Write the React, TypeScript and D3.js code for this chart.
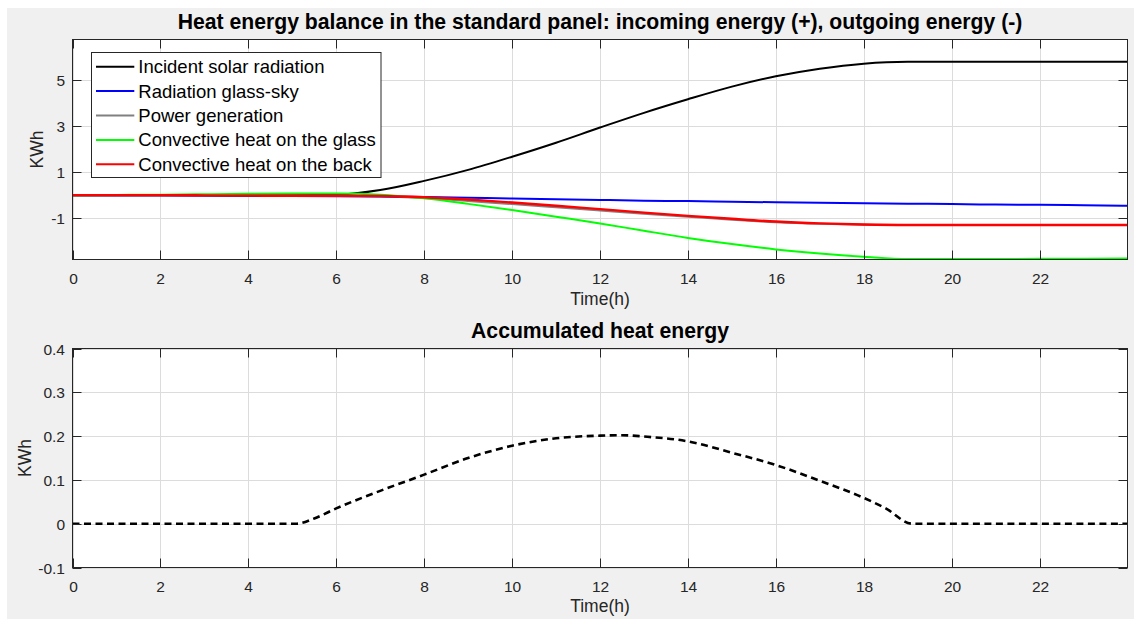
import React from "react";
import * as d3 from "d3";

// Hourly time base for the energy-balance panel (h)
const hours = d3.range(0, 25);

// Cumulative energy per source, KWh (positive = incoming, negative = outgoing)
const incidentSolar = [0, 0, 0, 0, 0, 0, 0.02, 0.22, 0.62, 1.1, 1.67, 2.28, 2.94, 3.58, 4.17, 4.72, 5.17, 5.5, 5.72, 5.8, 5.8, 5.8, 5.8, 5.8, 5.8];
const glassSky = [0, 0, -0.01, -0.02, -0.03, -0.04, -0.05, -0.06, -0.08, -0.11, -0.15, -0.18, -0.21, -0.24, -0.26, -0.29, -0.31, -0.33, -0.35, -0.37, -0.39, -0.41, -0.42, -0.44, -0.46];
const powerGeneration = [0, 0, 0, -0.01, -0.02, -0.03, -0.03, -0.05, -0.13, -0.26, -0.39, -0.53, -0.67, -0.81, -0.94, -1.07, -1.18, -1.25, -1.29, -1.3, -1.3, -1.3, -1.3, -1.3, -1.3];
const convGlass = [0, 0.01, 0.02, 0.04, 0.06, 0.07, 0.07, 0.02, -0.14, -0.38, -0.65, -0.94, -1.23, -1.55, -1.86, -2.13, -2.36, -2.54, -2.68, -2.78, -2.78, -2.78, -2.77, -2.77, -2.76];
const convBack = [0, 0, 0, -0.01, -0.02, -0.03, -0.03, -0.04, -0.09, -0.19, -0.32, -0.46, -0.61, -0.76, -0.9, -1.03, -1.15, -1.23, -1.28, -1.3, -1.3, -1.3, -1.3, -1.3, -1.3];

const seriesNames = [
  "Incident solar radiation",
  "Radiation glass-sky",
  "Power generation",
  "Convective heat on the glass",
  "Convective heat on the back",
];
const seriesColors = ["#000000", "#0000ff", "#808080", "#00ff00", "#ff0000"];
const seriesValues = [incidentSolar, glassSky, powerGeneration, convGlass, convBack];

// Accumulated heat energy (KWh)
const accumHours = [0, 5.1, 5.5, 6, 7, 8, 9, 10, 11, 12, 12.5, 13, 14, 15, 16, 17, 18, 18.5, 19.1, 24];
const accumValues = [0, 0, 0.012, 0.035, 0.075, 0.112, 0.15, 0.178, 0.195, 0.201, 0.202, 0.199, 0.188, 0.162, 0.134, 0.098, 0.059, 0.035, 0, 0];

const xTicks = [0, 2, 4, 6, 8, 10, 12, 14, 16, 18, 20, 22];
const yTicksTop = [-1, 1, 3, 5];
const yTicksBottom = [-0.1, 0, 0.1, 0.2, 0.3, 0.4];

const FONT = "'Liberation Sans', Arial, Helvetica, sans-serif";
const AXIS = "#262626";
const GRID = "#dcdcdc";

const W = 1134;
const H = 619;
const L = 72.5;
const R = 1127.5;

type Panel = {
  top: number;
  bottom: number;
  y: d3.ScaleLinear<number, number>;
  yTicks: number[];
  fmt: (v: number) => string;
  id: string;
};

const x = d3.scaleLinear().domain([0, 24]).range([L, R]);

const topPanel: Panel = {
  top: 39.5,
  bottom: 259.5,
  y: d3.scaleLinear().domain([-2.8, 6.77]).range([259.5, 39.5]),
  yTicks: yTicksTop,
  fmt: (v) => String(v),
  id: "clipTop",
};
const bottomPanel: Panel = {
  top: 348.5,
  bottom: 567.5,
  y: d3.scaleLinear().domain([-0.1, 0.4]).range([567.5, 348.5]),
  yTicks: yTicksBottom,
  fmt: (v) => (v === 0 ? "0" : v.toFixed(1)),
  id: "clipBottom",
};

const TICK = 9;

function Grid({ p }: { p: Panel }) {
  return (
    <g>
      <rect x={L} y={p.top} width={R - L} height={p.bottom - p.top} fill="#ffffff" />
      {xTicks.map((t) => (
        <line key={"gx" + t} x1={Math.round(x(t)) + 0.5} x2={Math.round(x(t)) + 0.5} y1={p.top} y2={p.bottom} stroke={GRID} strokeWidth={1} />
      ))}
      {p.yTicks.map((t) => (
        <line key={"gy" + t} x1={L} x2={R} y1={Math.round(p.y(t)) + 0.5} y2={Math.round(p.y(t)) + 0.5} stroke={GRID} strokeWidth={1} />
      ))}
    </g>
  );
}

function Frame({ p, labelBaseline, yLabelX }: { p: Panel; labelBaseline: number; yLabelX: number }) {
  return (
    <g fontFamily={FONT}>
      {xTicks.map((t) => {
        const xx = Math.round(x(t)) + 0.5;
        return (
          <g key={"tx" + t}>
            <line x1={xx} x2={xx} y1={p.bottom} y2={p.bottom - TICK} stroke={AXIS} />
            <line x1={xx} x2={xx} y1={p.top} y2={p.top + TICK} stroke={AXIS} />
            <text x={xx} y={p.bottom + 24} textAnchor="middle" fontSize={15.5} fill={AXIS}>
              {t}
            </text>
          </g>
        );
      })}
      {p.yTicks.map((t) => {
        const yy = Math.round(p.y(t)) + 0.5;
        return (
          <g key={"ty" + t}>
            <line x1={L} x2={L + TICK} y1={yy} y2={yy} stroke={AXIS} />
            <line x1={R} x2={R - TICK} y1={yy} y2={yy} stroke={AXIS} />
            <text x={65} y={yy} dy="0.36em" textAnchor="end" fontSize={15.5} fill={AXIS}>
              {p.fmt(t)}
            </text>
          </g>
        );
      })}
      <rect x={L} y={p.top} width={R - L} height={p.bottom - p.top} fill="none" stroke={AXIS} strokeWidth={1} />
      <text x={x(12)} y={labelBaseline} textAnchor="middle" fontSize={17.5} fill={AXIS}>
        Time(h)
      </text>
      <text
        transform={`translate(${yLabelX},${(p.top + p.bottom) / 2}) rotate(-90)`}
        textAnchor="middle"
        fontSize={17.5}
        fill={AXIS}
      >
        KWh
      </text>
    </g>
  );
}

export default function App() {
  const lineTop = (vals: number[]) =>
    d3
      .line<number>()
      .x((_, i) => x(hours[i]))
      .y((v) => topPanel.y(v))
      .curve(d3.curveMonotoneX)(vals) || "";

  const accumPath =
    d3
      .line<number>()
      .x((_, i) => x(accumHours[i]))
      .y((v) => bottomPanel.y(v))
      .curve(d3.curveMonotoneX)(accumValues) || "";

  // Draw order: gray first so the red back-convection line sits on top of it
  const drawOrder = [2, 1, 0, 3, 4];

  const legend = { x: 91.5, y: 52.5, w: 289.5, h: 125, rowY0: 66.7, rowStep: 24.4 };

  return (
    <svg
      width={W}
      height={H}
      viewBox={`0 0 ${W} ${H}`}
      style={{ position: "absolute", left: 0, top: 0, display: "block" }}
    >
      <rect x={0} y={0} width={W} height={H} fill="#ffffff" />
      <rect x={7} y={8} width={W - 7} height={H - 8} fill="#f0f0f0" />
      <defs>
        <clipPath id="clipTop">
          <rect x={L} y={topPanel.top} width={R - L} height={topPanel.bottom - topPanel.top} />
        </clipPath>
        <clipPath id="clipBottom">
          <rect x={L} y={bottomPanel.top} width={R - L} height={bottomPanel.bottom - bottomPanel.top} />
        </clipPath>
      </defs>

      {/* Top panel: energy balance */}
      <Grid p={topPanel} />
      <g clipPath="url(#clipTop)">
        {drawOrder.map((i) => (
          <path key={seriesNames[i]} d={lineTop(seriesValues[i])} fill="none" stroke={seriesColors[i]} strokeWidth={i === 4 ? 2.4 : 2} />
        ))}
      </g>
      <Frame p={topPanel} labelBaseline={305} yLabelX={43} />
      <text x={600} y={29.3} textAnchor="middle" fontFamily={FONT} fontWeight="bold" fontSize={21.2} fill="#000">
        Heat energy balance in the standard panel: incoming energy (+), outgoing energy (-)
      </text>

      {/* Legend */}
      <g fontFamily={FONT}>
        <rect x={legend.x} y={legend.y} width={legend.w} height={legend.h} fill="#ffffff" stroke={AXIS} strokeWidth={1} />
        {seriesNames.map((name, i) => {
          const yy = legend.rowY0 + i * legend.rowStep;
          return (
            <g key={name}>
              <line x1={96} x2={134.3} y1={yy} y2={yy} stroke={seriesColors[i]} strokeWidth={2} />
              <text x={138.3} y={yy} dy="0.35em" fontSize={18.5} fill="#000">
                {name}
              </text>
            </g>
          );
        })}
      </g>

      {/* Bottom panel: accumulated heat */}
      <Grid p={bottomPanel} />
      <g clipPath="url(#clipBottom)">
        <path d={accumPath} fill="none" stroke="#000" strokeWidth={2.6} strokeDasharray="7,4.5" />
      </g>
      <Frame p={bottomPanel} labelBaseline={612} yLabelX={31} />
      <text x={600} y={338.3} textAnchor="middle" fontFamily={FONT} fontWeight="bold" fontSize={21.2} fill="#000">
        Accumulated heat energy
      </text>
    </svg>
  );
}
